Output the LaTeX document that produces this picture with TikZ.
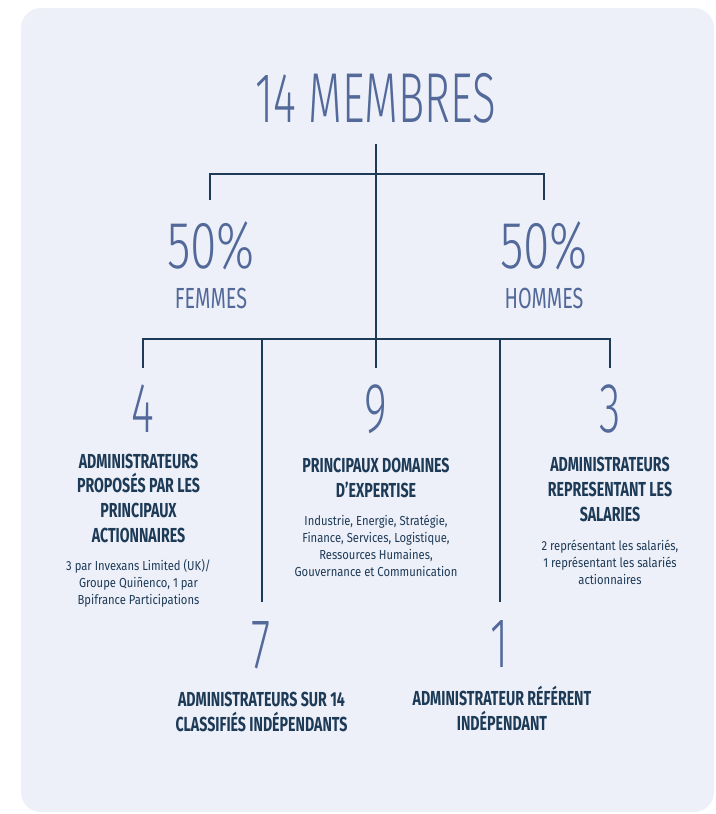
\documentclass[tikz,border=0pt]{standalone}
\usepackage{fontspec}
\setmainfont{Fira Sans}
\newfontfamily\thinfont{Fira Sans Light}[FakeStretch=0.62]
\newfontfamily\pctfont{Fira Sans Light}[FakeStretch=0.72]
\newfontfamily\capfont{Fira Sans}[FakeStretch=0.68]
\newfontfamily\headfont{Fira Sans}[FakeStretch=0.7]
\newfontfamily\notefont{Fira Sans}[FakeStretch=0.86]
\definecolor{panelbg}{HTML}{EDF0F9}
\definecolor{figblue}{HTML}{53699A}
\definecolor{inknavy}{HTML}{1D3A56}
\begin{document}
\begin{tikzpicture}[x=0.75pt,y=-0.75pt,
  bignum/.style={text=figblue, inner sep=0, anchor=base, font=\thinfont\fontsize{53}{53}\selectfont},
  pctnum/.style={bignum, font=\pctfont\fontsize{50}{50}\selectfont},
  gender/.style={text=figblue, inner sep=0, anchor=base, font=\capfont\fontsize{21.8}{21.8}\selectfont},
  headtxt/.style={text=inknavy, inner sep=0, anchor=base, align=center, font=\headfont\bfseries\fontsize{15.2}{18.4}\selectfont},
  notetxt/.style={text=inknavy, inner sep=0, anchor=base, align=center, font=\notefont\fontsize{9.8}{12.6}\selectfont},
  link/.style={draw=inknavy, line width=1.1pt}]
\useasboundingbox (0,0) rectangle (715,814);
\fill[panelbg, rounded corners=15] (21,8) rectangle (714,812);

% top level
\node[bignum] (membres) at (376,122) {14 MEMBRES};
\node[pctnum] (pctF) at (211,268) {50\%};
\node[gender] (femmes) at (211,308) {FEMMES};
\node[pctnum] (pctH) at (544,268) {50\%};
\node[gender] (hommes) at (544,308) {HOMMES};

% tree lines
\coordinate (c0) at (376,144);
\coordinate (c9) at (376,368);
\coordinate (f0) at (210,200);
\coordinate (h0) at (544,200);
\coordinate (a4) at (143,368);
\coordinate (a3) at (610,368);
\coordinate (a7) at (262,602);
\coordinate (a1) at (500,602);
\draw[link] (c0) -- (c9);
\draw[link] (f0) -- ++(0,-26) -| (h0);
\draw[link] (a4) -- ++(0,-29) -| (a3);
\draw[link] (a7) -- ++(0,-263);
\draw[link] (a1) -- ++(0,-263);

% figures
\node[bignum] (n4) at (143,432) {4};
\node[bignum] (n9) at (376,432) {9};
\node[bignum] (n3) at (610,432) {3};
\node[bignum] (n7) at (261,668) {7};
\node[bignum] (n1) at (500,667) {1};

% headings (anchored on the last line)
\node[headtxt] (h4) at (138.5,542) {ADMINISTRATEURS\\PROPOSÉS PAR LES\\PRINCIPAUX\\ACTIONNAIRES};
\node[headtxt] (h9) at (376,497) {PRINCIPAUX DOMAINES\\D’EXPERTISE};
\node[headtxt] (h3) at (610,521) {ADMINISTRATEURS\\REPRESENTANT LES\\SALARIES};
\node[headtxt] (h7) at (261.5,731) {ADMINISTRATEURS SUR 14\\CLASSIFIÉS INDÉPENDANTS};
\node[headtxt] (h1) at (502,730) {ADMINISTRATEUR RÉFÉRENT\\INDÉPENDANT};

% notes
\node[notetxt] (d4) at (138.5,604) {3 par Invexans Limited (UK)/\\Groupe Quiñenco, 1 par\\Bpifrance Participations};
\node[notetxt] (d9) at (376,576) {Industrie, Energie, Stratégie,\\Finance, Services, Logistique,\\Ressources Humaines,\\Gouvernance et Communication};
\node[notetxt] (d3) at (610,584) {2 représentant les salariés,\\1 représentant les salariés\\actionnaires};
\end{tikzpicture}
\end{document}
